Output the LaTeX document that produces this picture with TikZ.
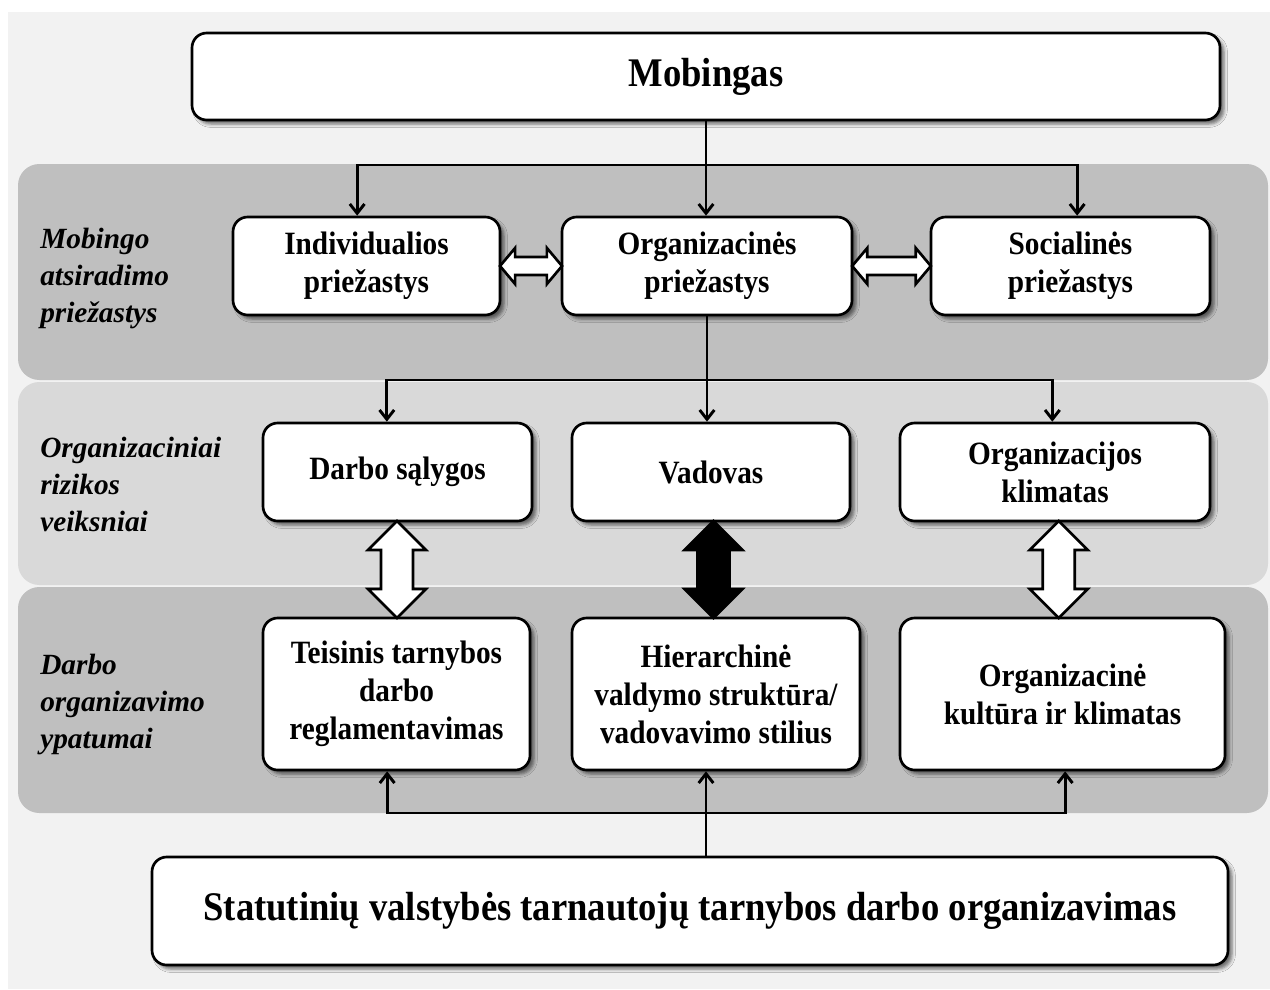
\documentclass[tikz,border=0pt]{standalone}
\usepackage{fontspec}
\setmainfont{Liberation Serif}
\newfontfamily\narrowserif{Liberation Serif}[FakeStretch=0.9]
\usetikzlibrary{arrows.meta,shapes.arrows,shadows.blur,calc}
\definecolor{pagegray}{HTML}{F2F2F2}
\definecolor{banddark}{HTML}{BFBFBF}
\definecolor{bandlight}{HTML}{D9D9D9}

\begin{document}
\begin{tikzpicture}[x=0.75pt, y=-0.75pt,
    box/.style={draw, line width=2pt, rounded corners=11pt, fill=white, align=center,
      inner sep=0pt, font=\narrowserif\bfseries\fontsize{24.4}{28.5}\selectfont,
      blur shadow={shadow xshift=3pt, shadow yshift=-3pt, shadow blur radius=2.5pt, shadow opacity=55}},
    bigbox/.style={box, font=\narrowserif\bfseries\fontsize{30.5}{35}\selectfont},
    sidelabel/.style={anchor=west, align=left, inner sep=0pt,
      font=\bfseries\itshape\fontsize{22}{27.75}\selectfont},
    link/.style={line width=2.2pt, -{Straight Barb[length=7pt,width=11pt]}},
    hdbl/.style={double arrow, draw, fill=white, line width=2pt, inner xsep=0pt,
      inner ysep=5.75pt, double arrow head extend=6.75pt, double arrow tip angle=100},
    vdbl/.style={double arrow, draw, fill=white, line width=2pt, inner xsep=0pt,
      inner ysep=11pt, double arrow head extend=9.75pt, rotate=90},
  ]
  \useasboundingbox (0,0) rectangle (1270,989);
  % page and bands
  \fill[pagegray] (8,12) rectangle (1270,989);
  \fill[banddark, rounded corners=16pt] (18,164) rectangle (1268,380);
  \fill[bandlight, rounded corners=16pt] (18,382) rectangle (1268,585);
  \fill[banddark, rounded corners=16pt] (18,587) rectangle (1268,813);

  % side labels
  \node[sidelabel] (lab1) at (40,278) {Mobingo\\atsiradimo\\priežastys};
  \node[sidelabel] (lab2) at (40,484) {Organizaciniai\\rizikos\\veiksniai};
  \node[sidelabel] (lab3) at (40,704) {Darbo\\organizavimo\\ypatumai};

  % top
  \node[bigbox, minimum width=771pt, minimum height=65.25pt] (mob) at (706,76.5) {Mobingas};

  % causes
  \node[box, minimum width=200.25pt, minimum height=73.5pt] (ind) at (366.5,266) {Individualios\\priežastys};
  \node[box, minimum width=217.5pt, minimum height=73.5pt] (orgp) at (707,266) {Organizacinės\\priežastys};
  \node[box, minimum width=209.25pt, minimum height=73.5pt] (soc) at (1070.5,266) {Socialinės\\priežastys};

  % risk factors
  \node[box, minimum width=201.75pt, minimum height=73.5pt] (darbo) at (397.5,472) {Darbo sąlygos};
  \node[box, minimum width=208.5pt, minimum height=73.5pt] (vad) at (711,472) {Vadovas};
  \node[box, minimum width=232.5pt, minimum height=73.5pt] (klim) at (1055,472) {Organizacijos\\klimatas};

  % work organisation
  \node[box, minimum width=200.25pt, minimum height=114pt] (teis) at (396.5,694) {Teisinis tarnybos\\darbo\\reglamentavimas};
  \node[box, minimum width=216pt, minimum height=114pt] (hier) at (716,694) {Hierarchinė\\valdymo struktūra/\\vadovavimo stilius};
  \node[box, minimum width=243.75pt, minimum height=114pt] (kult) at (1062.5,694) {Organizacinė\\kultūra ir klimatas};

  % bottom
  \node[bigbox, minimum width=807pt, minimum height=81pt] (stat) at (690,911) {Statutinių valstybės tarnautojų tarnybos darbo organizavimas};

  % block arrows
  \node[hdbl, minimum height=46.5pt] (h1) at ($(ind.east)!0.5!(orgp.west)$) {};
  \node[hdbl, minimum height=59pt] (h2) at ($(orgp.east)!0.5!(soc.west)$) {};
  \node[vdbl, minimum height=72.75pt] (v1) at ($(darbo.south)!0.5!(teis.north)$) {};
  \node[vdbl, minimum height=72.75pt, fill=black] (v2) at ($(vad.south)!0.5!(hier.north)$) {};
  \node[vdbl, minimum height=72.75pt] (v3) at ($(klim.south)!0.5!(kult.north)$) {};

  % connectors
  \coordinate (j1) at (706,165);
  \draw[link] (mob.south) -- (mob.south |- orgp.north);
  \draw[link] (j1) -| ([xshift=-7pt]ind.north);
  \draw[link] (j1) -| ([xshift=5pt]soc.north);

  \coordinate (j2) at (707,380);
  \draw[link] (orgp.south) -- (orgp.south |- vad.north);
  \draw[link] (j2) -| ([xshift=-8pt]darbo.north);
  \draw[link] (j2) -| ([xshift=-2pt]klim.north);

  \coordinate (j3) at (706,813);
  \draw[link] (stat.north -| j3) -- (hier.south -| j3);
  \draw[link] (j3) -| ([xshift=-7pt]teis.south);
  \draw[link] (j3) -| ([xshift=2pt]kult.south);
\end{tikzpicture}
\end{document}
